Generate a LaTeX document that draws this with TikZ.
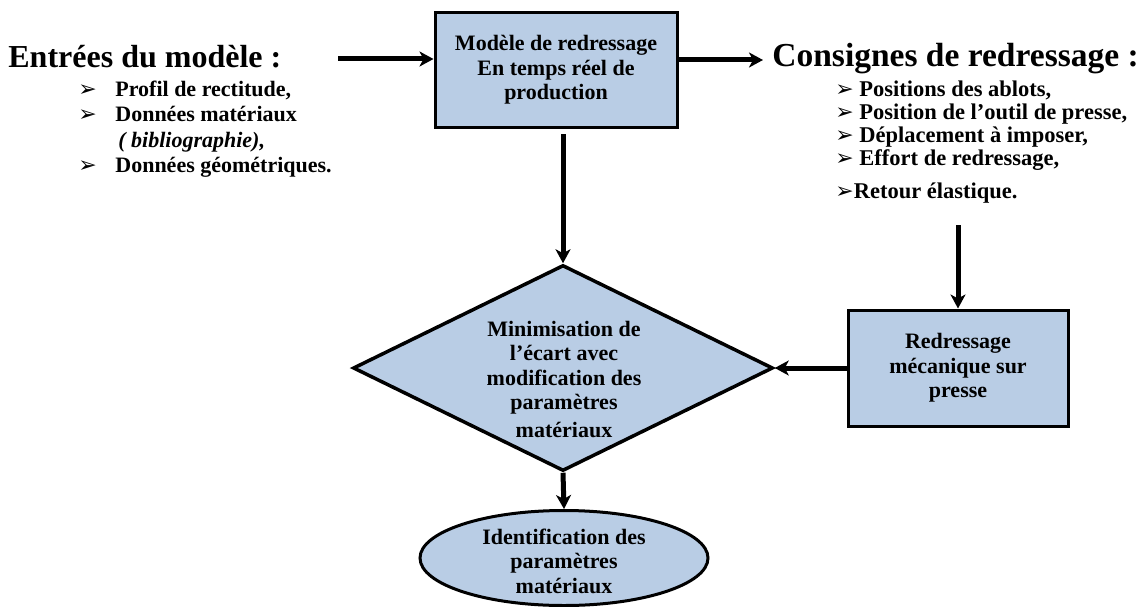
\documentclass[tikz,border=0pt]{standalone}
\usepackage{fontspec}
\setmainfont{Liberation Serif}
\newfontfamily\symbfont{DejaVu Sans}
\usetikzlibrary{shapes.geometric, arrows.meta}

\definecolor{boxblue}{RGB}{185,205,229}
\newcommand{\puce}{{\symbfont\fontsize{22}{22}\selectfont ➢}}

\begin{document}
\begin{tikzpicture}[x=1pt, y=-1pt, thick,
        >={Stealth[length=14pt, width=15pt, inset=4pt]},
        flow/.style={->, line width=5pt},
        block/.style={draw, rectangle, fill=boxblue, line width=3pt, align=center,
            font=\bfseries\fontsize{22}{24.5}\selectfont},
        shapetext/.style={align=center, inner sep=0pt, font=\bfseries\fontsize{22}{24.5}\selectfont},
        title/.style={anchor=base west, inner sep=0pt, font=\bfseries\fontsize{32}{36}\selectfont},
        liste/.style={anchor=base west, inner sep=0pt, align=left}]
        \useasboundingbox (0,0) rectangle (1142,607);

        % Nodes (lists are placed by the baseline of their last line)
        \node (entrees) [title] at (8,68) {Entrées du modèle :};
        \node (entreesliste) [liste, font=\bfseries\fontsize{22}{25.5}\selectfont] at (78,172.5)
            {\makebox[37pt][l]{\puce}Profil de rectitude,\\
             \makebox[37pt][l]{\puce}Données matériaux\\
             \hspace*{40pt}\textit{( bibliographie),}\\
             \makebox[37pt][l]{\puce}Données géométriques.};
        \node (modele) [block, minimum width=242pt, minimum height=115pt] at (556,70)
            {Modèle de redressage\\En temps réel de\\production};
        \node (consignes) [title, font=\bfseries\fontsize{33.5}{38}\selectfont] at (772,67)
            {Consignes de redressage :};
        \node (consignesliste) [liste, font=\bfseries\fontsize{22.5}{23}\selectfont] at (835,198)
            {\puce\ Positions des ablots,\\
             \puce\ Position de l’outil de presse,\\
             \puce\ Déplacement à imposer,\\
             \puce\ Effort de redressage,\\[10pt]
             \puce Retour élastique.};
        \node (minim) [diamond, draw, fill=boxblue, line width=3.5pt, aspect=2, inner sep=0pt,
            minimum width=420pt, minimum height=206pt] at (563,368) {};
        \node (minimtexte) [shapetext] at (564,379)
            {Minimisation de\\l’écart avec\\modification des\\paramètres\\[3pt]matériaux};
        \node (presse) [block, minimum width=220pt, minimum height=116pt] at (958,368)
            {Redressage\\mécanique sur\\presse};
        \node (ident) [ellipse, draw, fill=boxblue, line width=3pt, inner sep=0pt,
            minimum width=288pt, minimum height=95pt] at (564,558) {};
        \node (identtexte) [shapetext] at (564,561)
            {Identification des\\paramètres\\matériaux};

        % Edges
        \coordinate (entreesfin) at (338,59);
        \coordinate (consignespointe) at (763,60);
        \coordinate (modelesortie) at (563,134);
        \coordinate (consignessortie) at (958,225);
        \draw[flow] (entreesfin) -- (entreesfin -| modele.west);
        \draw[flow] (consignespointe -| modele.east) -- (consignespointe);
        \draw[flow] (modelesortie) -- (minim.north);
        \draw[flow] (consignessortie) -- (presse.north);
        \draw[flow] (presse.west) -- (minim.east);
        \draw[flow] (minim.south) -- (ident.north);
    \end{tikzpicture}
\end{document}
